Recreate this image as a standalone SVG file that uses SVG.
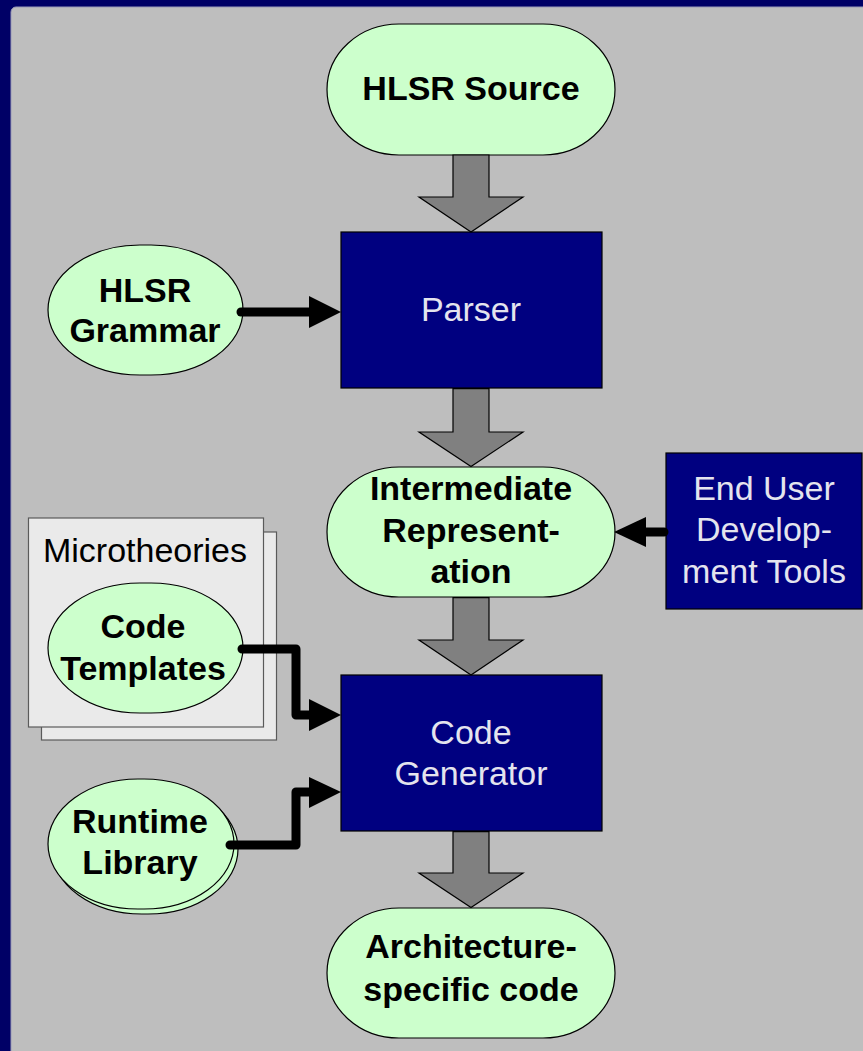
<svg xmlns="http://www.w3.org/2000/svg" width="863" height="1051" viewBox="0 0 863 1051">
<defs>
<style>
.term{fill:#CCFFCC;stroke:#000;stroke-width:1.2}
.proc{fill:#000080;stroke:#000;stroke-width:1.2}
.sheet{fill:#EAEAEA;stroke:#5A5A5A;stroke-width:1.2}
.bt{font-family:"Liberation Sans",Arial,sans-serif;font-weight:bold;font-size:34px;fill:#000;text-anchor:middle}
.lt{font-family:"Liberation Sans",Arial,sans-serif;font-size:34px;fill:#E4E4EE;text-anchor:middle}
.nt{font-family:"Liberation Sans",Arial,sans-serif;font-size:34px;fill:#000;text-anchor:middle}
.flow{fill:#808080;stroke:#000;stroke-width:1.2;stroke-linejoin:miter}
.wire{fill:none;stroke:#000;stroke-width:9;stroke-linecap:round;stroke-linejoin:round}
.head{fill:#000;stroke:none}
</style>
</defs>
<rect x="0" y="0" width="863" height="1051" fill="#000066"/>
<rect x="11" y="7" width="870" height="1060" rx="5" fill="#BEBEBE" stroke="#9A9AB8" stroke-width="1"/>

<g id="hlsr-source">
<rect class="term" x="327" y="24" width="288" height="131" rx="72" ry="65.5"/>
<text class="bt" x="471" y="100">HLSR Source</text>
</g>

<g id="parser">
<rect class="proc" x="341" y="232" width="261" height="156"/>
<text class="lt" x="471" y="321">Parser</text>
</g>

<g id="hlsr-grammar">
<rect class="term" x="48" y="245" width="195" height="130" rx="92" ry="65"/>
<text class="bt" x="145" y="302">HLSR</text>
<text class="bt" x="145" y="342">Grammar</text>
</g>

<g id="intermediate-representation">
<rect class="term" x="327" y="467" width="288" height="130" rx="72" ry="65"/>
<text class="bt" x="471" y="500">Intermediate</text>
<text class="bt" x="471" y="542">Represent-</text>
<text class="bt" x="471" y="583">ation</text>
</g>

<g id="end-user-tools">
<rect class="proc" x="666" y="453" width="196" height="156"/>
<text class="lt" x="764" y="500">End User</text>
<text class="lt" x="764" y="541">Develop-</text>
<text class="lt" x="764" y="583">ment Tools</text>
</g>

<g id="microtheories">
<rect class="sheet" x="41.5" y="532" width="235" height="208"/>
<rect class="sheet" x="28.5" y="518" width="235" height="209"/>
<text class="nt" x="145" y="562">Microtheories</text>
</g>

<g id="code-templates">
<rect class="term" x="48" y="583" width="195" height="130" rx="92" ry="65"/>
<text class="bt" x="143" y="638">Code</text>
<text class="bt" x="143" y="680">Templates</text>
</g>

<g id="code-generator">
<rect class="proc" x="341" y="675" width="261" height="156"/>
<text class="lt" x="471" y="744">Code</text>
<text class="lt" x="471" y="785">Generator</text>
</g>

<g id="runtime-library">
<rect class="term" x="52" y="784" width="186" height="130" rx="90" ry="65"/>
<rect class="term" x="48" y="779" width="186" height="130" rx="90" ry="65"/>
<text class="bt" x="140" y="833">Runtime</text>
<text class="bt" x="140" y="874">Library</text>
</g>

<g id="architecture-code">
<rect class="term" x="327" y="908" width="288" height="130" rx="72" ry="65"/>
<text class="bt" x="471" y="958">Architecture-</text>
<text class="bt" x="471" y="1001">specific code</text>
</g>

<g id="connectors">
<polygon class="flow" points="453,155 489,155 489,197 523,197 471,232 419,197 453,197"/>
<polygon class="flow" points="453,388.6 489,388.6 489,432 523,432 471,466.5 419,432 453,432"/>
<polygon class="flow" points="453,597.6 489,597.6 489,640 523,640 471,675 419,640 453,640"/>
<polygon class="flow" points="453,831.6 489,831.6 489,873 523,873 471,907.5 419,873 453,873"/>
<path class="wire" d="M241,312 L314,312"/>
<polygon class="head" points="309,296 341,312 309,328"/>
<path class="wire" d="M664,532 L640,532"/>
<polygon class="head" points="646,517 614,532 646,547"/>
<path class="wire" d="M242,649 L296,649 L296,715 L314,715"/>
<polygon class="head" points="309,699 341,715 309,731"/>
<path class="wire" d="M230,845 L296,845 L296,792 L314,792"/>
<polygon class="head" points="309,777 341,792 309,808"/>
</g>
</svg>
